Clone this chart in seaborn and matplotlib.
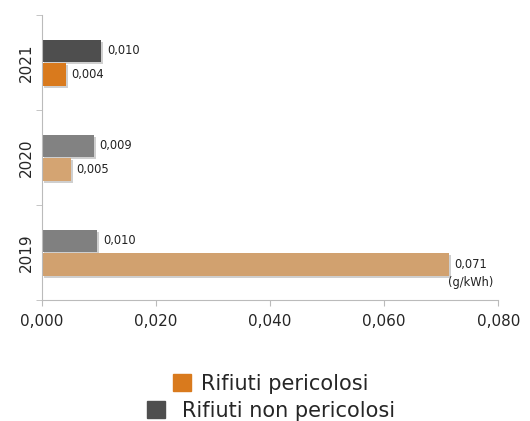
# waste per kWh, hazardous vs non hazardous, 2019-2021
import matplotlib
matplotlib.use("Agg")
import matplotlib.pyplot as plt
import matplotlib.patheffects as pe
from matplotlib.patches import Patch
import numpy as np
import pandas as pd
import seaborn as sns

years = ["2021", "2020", "2019"]
non_pericolosi = [0.0104, 0.0091, 0.0097]
pericolosi = [0.0042, 0.0051, 0.0713]
labels_non = ["0,010", "0,009", "0,010"]
labels_per = ["0,004", "0,005", "0,071"]
series = ["Rifiuti non pericolosi", "Rifiuti pericolosi"]

# colours change per year in the original
col_non = {"2021": "#4e4e4e", "2020": "#828282", "2019": "#808080"}
col_per = {"2021": "#d97a1d", "2020": "#d4a472", "2019": "#d1a16f"}

df = pd.DataFrame({
    "anno": years * 2,
    "valore": non_pericolosi + pericolosi,
    "tipo": [series[0]] * 3 + [series[1]] * 3,
})

sns.set_style("white")
plt.rcParams["font.family"] = ["DejaVu Sans"]

fig = plt.figure(figsize=(5.30, 4.21), dpi=100)
ax = fig.add_axes([0.079, 0.287, 0.861, 0.677])

sns.barplot(data=df, y="anno", x="valore", hue="tipo", order=years,
            hue_order=series, orient="h", width=0.5, gap=0.06,
            legend=False, ax=ax)

shadow = [pe.SimplePatchShadow(offset=(1.5, -1.5), shadow_rgbFace="#bbbbbb", alpha=0.7), pe.Normal()]
bars_non = ax.containers[0]
bars_per = ax.containers[1]
for i, y in enumerate(years):
    for bar, col, lab in ((bars_non[i], col_non[y], labels_non[i]),
                          (bars_per[i], col_per[y], labels_per[i])):
        bar.set_facecolor(col)
        bar.set_edgecolor("none")
        bar.set_path_effects(shadow)
        ax.text(bar.get_width() + 0.001, bar.get_y() + bar.get_height() / 2, lab,
                va="center", ha="left", fontsize=8.3, color="#222222")

# unit under the last label
last = bars_per[2]
ax.text(last.get_width() - 0.0001, last.get_y() + last.get_height() + 0.07, "(g/kWh)",
        va="center", ha="left", fontsize=8.3, color="#222222")

ax.set_xlim(0, 0.080)
ax.set_ylim(2.5, -0.5)
ax.set_xticks(np.arange(0, 0.081, 0.02))
ax.set_xticklabels(["0,000", "0,020", "0,040", "0,060", "0,080"], fontsize=11)
ax.set_yticks(range(3))
ax.set_yticklabels(years, rotation=90, va="center", fontsize=11)
ax.set_yticks([-0.5, 0.5, 1.5, 2.5], minor=True)
ax.tick_params(axis="y", which="major", length=0, pad=6)
ax.tick_params(axis="y", which="minor", length=4, color="#bbbbbb", direction="out", left=True)
ax.tick_params(axis="x", length=4, color="#bbbbbb", direction="out", bottom=True, pad=6)
ax.set_xlabel("")
ax.set_ylabel("")
for s in ["top", "right"]:
    ax.spines[s].set_visible(False)
for s in ["left", "bottom"]:
    ax.spines[s].set_color("#bbbbbb")

fig.legend(handles=[Patch(color=col_per["2021"])], labels=[series[1]],
           loc="center", bbox_to_anchor=(0.511, 0.088), frameon=False,
           fontsize=15, handlelength=0.87, handleheight=0.87, handletextpad=0.48,
           borderpad=0, borderaxespad=0)
fig.legend(handles=[Patch(color=col_non["2021"])], labels=[series[0]],
           loc="center", bbox_to_anchor=(0.511, 0.024), frameon=False,
           fontsize=15, handlelength=0.87, handleheight=0.87, handletextpad=0.82,
           borderpad=0, borderaxespad=0)

plt.savefig("out.png", dpi=100)
